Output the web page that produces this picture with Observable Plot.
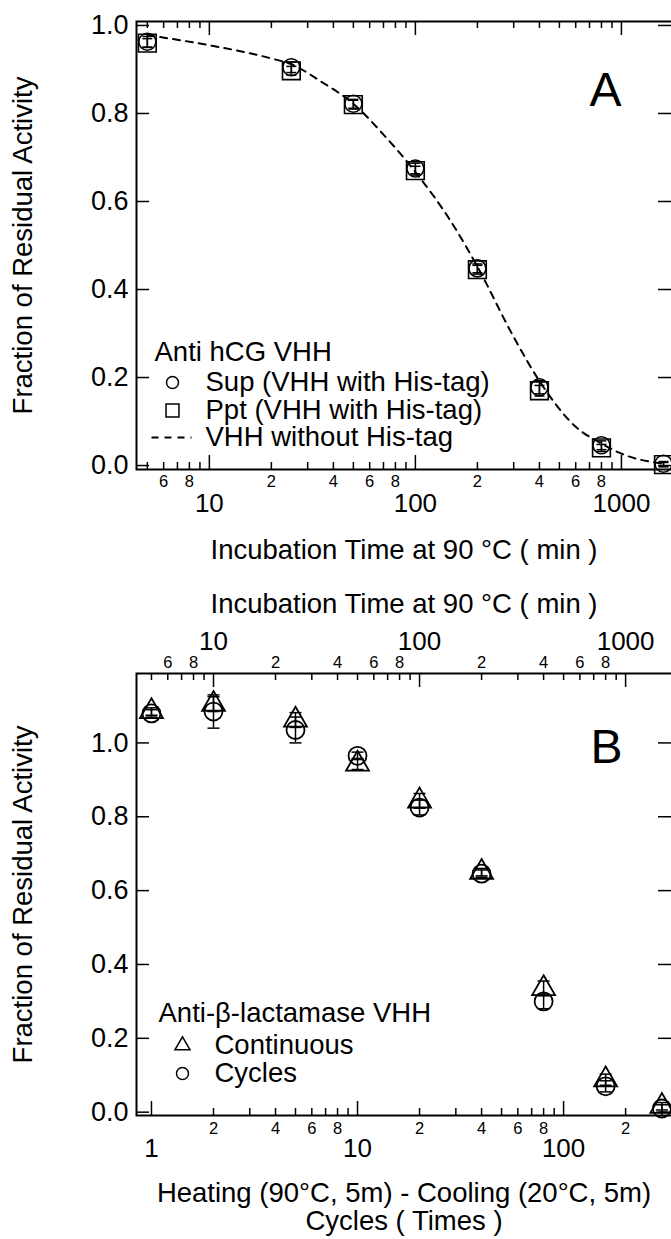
<!DOCTYPE html>
<html>
<head>
<meta charset="utf-8">
<script src="https://cdn.jsdelivr.net/npm/d3@7"></script>
<script src="https://cdn.jsdelivr.net/npm/@observablehq/plot@0.6"></script>
<style>
  html, body { margin: 0; padding: 0; background: #fff; overflow: hidden; }
  #chart svg { display: block; }
</style>
</head>
<body>
<div id="chart"></div>
<script>
// ---------- Panel A data (incubation time, min) ----------
const timeA = [5, 25, 50, 100, 200, 400, 800, 1600];
const supA = [0.963, 0.905, 0.822, 0.675, 0.448, 0.178, 0.046, 0.004];
const supErrA = [0.012, 0.012, 0.01, 0.012, 0.01, 0.015, 0.01, 0.005];
const pptA = [0.960, 0.897, 0.820, 0.670, 0.445, 0.170, 0.040, 0.002];
const pptErrA = [0.01, 0.01, 0.01, 0.01, 0.01, 0.012, 0.008, 0.005];
// dashed curve "VHH without His-tag"
const curveTimeA = [5, 10, 20, 25, 35, 50, 70, 100, 150, 200, 300, 400, 600, 800, 1000, 1600];
const curveA = [0.978, 0.955, 0.925, 0.912, 0.872, 0.822, 0.752, 0.667, 0.552, 0.452, 0.292, 0.192, 0.088, 0.050, 0.027, 0.004];

// ---------- Panel B data (heating-cooling cycles) ----------
const cyclesB = [1, 2, 5, 10, 20, 40, 80, 160, 300];
const contB = [1.085, 1.105, 1.062, 0.943, 0.843, 0.650, 0.335, 0.088, 0.016];
const contErrB = [0.01, 0.02, 0.02, 0.015, 0.02, 0.01, 0.02, 0.015, 0.01];
const cycB = [1.080, 1.085, 1.035, 0.965, 0.825, 0.646, 0.300, 0.070, 0.010];
const cycErrB = [0.01, 0.045, 0.035, 0.01, 0.02, 0.01, 0.02, 0.015, 0.01];
const minutesPerCycle = 5;

// ---------- ticks & labels ----------
const yTicks = [0, 0.2, 0.4, 0.6, 0.8, 1.0];
const majorA = [10, 100, 1000];
const minorA = [5, 6, 7, 8, 9, 20, 30, 40, 50, 60, 70, 80, 90, 200, 300, 400, 500, 600, 700, 800, 900];
const minorLabelA = [6, 8, 20, 40, 60, 80, 200, 400, 600, 800];
const majorB = [1, 10, 100];
const minorB = [2, 3, 4, 5, 6, 7, 8, 9, 20, 30, 40, 50, 60, 70, 80, 90, 200, 300];
const minorLabelB = [2, 4, 6, 8, 20, 40, 60, 80, 200];
const majorTopB = [10, 100, 1000];            // minutes
const minorTopB = [5, 6, 7, 8, 9, 20, 30, 40, 50, 60, 70, 80, 90, 200, 300, 400, 500, 600, 700, 800, 900];
const minorLabelTopB = [6, 8, 20, 40, 60, 80, 200, 400, 600, 800];

const yTitle = "Fraction of Residual Activity";
const xTitleA = "Incubation Time at 90 °C ( min )";
const xTitleTopB = "Incubation Time at 90 °C ( min )";
const xTitleB = "Heating (90°C, 5m) - Cooling (20°C, 5m)\nCycles ( Times )";
const legendTitleA = "Anti hCG VHH";
const legendA = ["Sup (VHH with His-tag)", "Ppt (VHH with His-tag)", "VHH without His-tag"];
const legendTitleB = "Anti-β-lactamase VHH";
const legendB = ["Continuous", "Cycles"];

// ---------- helpers ----------
const FONT = "'Liberation Sans', Arial, Helvetica, sans-serif";
const W = 671;
const TITLE = 27.5, MAJOR = 26, MINOR = 16.5, YLAB = 27, LEG = 27.5, LETTER = 48;
const lead = d => String(Math.round(d))[0];
const hline = w => ({draw(ctx) { ctx.moveTo(-w / 2, 0); ctx.lineTo(w / 2, 0); }});
const K = {stroke: "#000", strokeWidth: 1.5};

function ticksX(values, xf, plotH, len, where) {
  const o = {x: xf, ...K};
  if (where === "bottom") o.insetTop = plotH - len; else o.insetBottom = plotH - len;
  return Plot.tickX(values, o);
}
function ticksY(values, plotW, len) {
  return [
    Plot.tickY(values, {y: d => d, insetRight: plotW - len, ...K}),
    Plot.tickY(values, {y: d => d, insetLeft: plotW - len, ...K})
  ];
}
function xLabels(values, xf, fmt, size, where, offset) {
  return Plot.text(values, {
    x: xf, text: fmt, frameAnchor: where, fontSize: size,
    lineAnchor: where === "bottom" ? "top" : "bottom",
    dy: where === "bottom" ? offset : -offset
  });
}
function errorBars(table, key, errKey, capW) {
  return [
    Plot.ruleX(table, {x: "x", y1: d => d[key] - d[errKey], y2: d => d[key] + d[errKey], stroke: "#000", strokeWidth: 1.5}),
    Plot.dot(table, {x: "x", y: d => d[key] + d[errKey], symbol: hline(capW), r: 3, fill: "none", stroke: "#000", strokeWidth: 1.5}),
    Plot.dot(table, {x: "x", y: d => d[key] - d[errKey], symbol: hline(capW), r: 3, fill: "none", stroke: "#000", strokeWidth: 1.5})
  ];
}
function legText(str, dx, dy, size) {
  return Plot.text([str], {frameAnchor: "top-left", dx, dy, textAnchor: "start", lineAnchor: "middle", fontSize: size, text: d => d});
}

// ---------- Panel A ----------
const tableA = timeA.map((t, i) => ({x: t, sup: supA[i], supErr: supErrA[i], ppt: pptA[i], pptErr: pptErrA[i]}));
const curveTableA = curveTimeA.map((t, i) => ({x: t, y: curveA[i]}));
const hA = 580, mtA = 21, mbA = 111, mlA = 136;
const plotHA = hA - mtA - mbA, plotW = W - mlA;

const plotA = Plot.plot({
  width: W, height: hA,
  marginLeft: mlA, marginRight: 0, marginTop: mtA, marginBottom: mbA,
  x: {type: "log", domain: [4.43, 1750], axis: null},
  y: {domain: [-0.009, 1.009]},
  style: {fontFamily: FONT, background: "#fff", color: "#000", overflow: "visible"},
  marks: [
    Plot.frame({stroke: "#000", strokeWidth: 2, insetRight: -4}),
    ticksX(minorA, d => d, plotHA, 7, "bottom"),
    ticksX(majorA, d => d, plotHA, 14, "bottom"),
    ticksX(minorA, d => d, plotHA, 7, "top"),
    ticksX(majorA, d => d, plotHA, 14, "top"),
    ...ticksY(yTicks, plotW, 13),
    xLabels(minorLabelA, d => d, lead, MINOR, "bottom", 6),
    xLabels(majorA, d => d, d => String(d), MAJOR, "bottom", 24),
    Plot.axisY(yTicks, {anchor: "left", tickSize: 0, tickPadding: 8, tickFormat: d3.format(".1f"), fontSize: YLAB, label: null}),
    Plot.text([xTitleA], {frameAnchor: "bottom", dy: 81, lineAnchor: "middle", fontSize: TITLE, text: d => d}),
    Plot.text([yTitle], {frameAnchor: "left", dx: -113, rotate: -90, textAnchor: "middle", lineAnchor: "middle", fontSize: TITLE, text: d => d}),
    Plot.text(["A"], {frameAnchor: "top-left", dx: 469, dy: 69, textAnchor: "middle", lineAnchor: "middle", fontSize: LETTER, text: d => d}),
    Plot.line(curveTableA, {x: "x", y: "y", curve: "monotone-x", stroke: "#000", strokeWidth: 2, strokeDasharray: "7,6"}),
    ...errorBars(tableA, "sup", "supErr", 10),
    ...errorBars(tableA, "ppt", "pptErr", 10),
    Plot.dot(tableA, {x: "x", y: "sup", symbol: "circle", r: 8.5, fill: "none", stroke: "#000", strokeWidth: 1.6}),
    Plot.dot(tableA, {x: "x", y: "ppt", symbol: "square", r: 10, fill: "none", stroke: "#000", strokeWidth: 1.6}),
    // legend
    legText(legendTitleA, 18, 331, LEG),
    Plot.dot([0], {frameAnchor: "top-left", dx: 36, dy: 361, symbol: "circle", r: 6, fill: "none", stroke: "#000", strokeWidth: 1.5}),
    legText(legendA[0], 69, 361, LEG),
    Plot.dot([0], {frameAnchor: "top-left", dx: 36, dy: 389, symbol: "square", r: 7.3, fill: "none", stroke: "#000", strokeWidth: 1.5}),
    legText(legendA[1], 69, 389, LEG),
    Plot.dot([0], {frameAnchor: "top-left", dx: 35, dy: 416, symbol: hline(40), r: 3, fill: "none", stroke: "#000", strokeWidth: 2, strokeDasharray: "7,6"}),
    legText(legendA[2], 69, 416, LEG)
  ]
});

// ---------- Panel B ----------
const tableB = cyclesB.map((c, i) => ({x: c, cont: contB[i], contErr: contErrB[i], cyc: cycB[i], cycErr: cycErrB[i]}));
const hB = 1239 - hA, mtB = 93, mbB = 124, mlB = 136;
const plotHB = hB - mtB - mbB;
const toCycles = m => m / minutesPerCycle;

const plotB = Plot.plot({
  width: W, height: hB,
  marginLeft: mlB, marginRight: 0, marginTop: mtB, marginBottom: mbB,
  x: {type: "log", domain: [0.846, 334], axis: null},
  y: {domain: [-0.009, 1.188]},
  style: {fontFamily: FONT, background: "#fff", color: "#000", overflow: "visible"},
  marks: [
    Plot.frame({stroke: "#000", strokeWidth: 2, insetRight: -4}),
    ticksX(minorB, d => d, plotHB, 7, "bottom"),
    ticksX(majorB, d => d, plotHB, 14, "bottom"),
    ticksX(minorTopB, toCycles, plotHB, 7, "top"),
    ticksX(majorTopB, toCycles, plotHB, 14, "top"),
    ...ticksY(yTicks, plotW, 13),
    xLabels(minorLabelB, d => d, lead, MINOR, "bottom", 7),
    xLabels(majorB, d => d, d => String(d), MAJOR, "bottom", 23),
    xLabels(minorLabelTopB, toCycles, lead, MINOR, "top", 6),
    xLabels(majorTopB, toCycles, d => String(d), MAJOR, "top", 24),
    Plot.axisY(yTicks, {anchor: "left", tickSize: 0, tickPadding: 8, tickFormat: d3.format(".1f"), fontSize: YLAB, label: null}),
    Plot.text([xTitleTopB], {frameAnchor: "top", dy: -69, lineAnchor: "middle", fontSize: TITLE, text: d => d}),
    Plot.text([xTitleB], {frameAnchor: "bottom", dy: 66, lineAnchor: "top", lineHeight: 1.03, fontSize: TITLE, text: d => d}),
    Plot.text([yTitle], {frameAnchor: "left", dx: -113, rotate: -90, textAnchor: "middle", lineAnchor: "middle", fontSize: TITLE, text: d => d}),
    Plot.text(["B"], {frameAnchor: "top-left", dx: 470, dy: 74, textAnchor: "middle", lineAnchor: "middle", fontSize: LETTER, text: d => d}),
    ...errorBars(tableB, "cont", "contErr", 12),
    ...errorBars(tableB, "cyc", "cycErr", 12),
    Plot.dot(tableB, {x: "x", y: "cont", symbol: "triangle", r: 8.5, fill: "none", stroke: "#000", strokeWidth: 1.8}),
    Plot.dot(tableB, {x: "x", y: "cyc", symbol: "circle", r: 9, fill: "none", stroke: "#000", strokeWidth: 1.8}),
    // legend
    legText(legendTitleB, 22, 340, LEG),
    Plot.dot([0], {frameAnchor: "top-left", dx: 46, dy: 372, symbol: "triangle", r: 5.6, fill: "none", stroke: "#000", strokeWidth: 1.5}),
    legText(legendB[0], 78, 372, LEG),
    Plot.dot([0], {frameAnchor: "top-left", dx: 46, dy: 400, symbol: "circle", r: 6, fill: "none", stroke: "#000", strokeWidth: 1.5}),
    legText(legendB[1], 78, 400, LEG)
  ]
});

document.getElementById("chart").append(plotA, plotB);
</script>
</body>
</html>
